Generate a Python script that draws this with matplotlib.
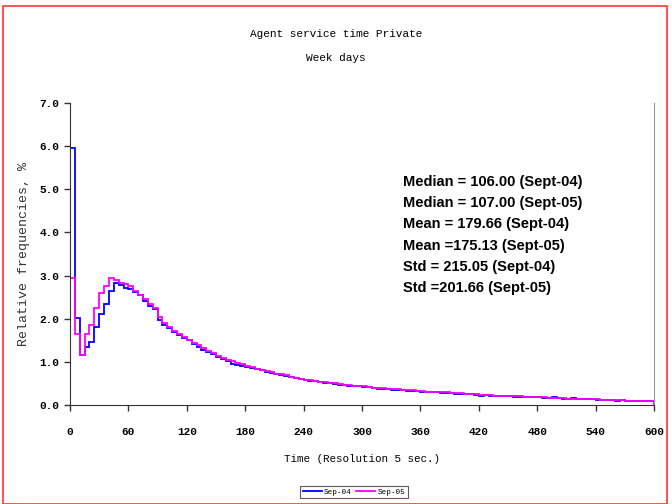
import numpy as np
import matplotlib
matplotlib.use("Agg")
import matplotlib.pyplot as plt
from matplotlib.patches import Rectangle

# relative frequencies (%) per 5-second bin, 0..600 s
bin_width = 5
sep04 = [
    5.95, 2.02, 1.15, 1.35, 1.45, 1.80, 2.12, 2.35, 2.65, 2.82,
    2.78, 2.72, 2.68, 2.62, 2.55, 2.42, 2.30, 2.22, 1.98, 1.85,
    1.78, 1.70, 1.62, 1.55, 1.50, 1.42, 1.35, 1.28, 1.22, 1.18,
    1.12, 1.06, 1.02, 0.96, 0.93, 0.91, 0.89, 0.86, 0.83, 0.80,
    0.77, 0.75, 0.72, 0.69, 0.67, 0.64, 0.62, 0.60, 0.58, 0.56,
    0.55, 0.53, 0.51, 0.50, 0.49, 0.47, 0.46, 0.45, 0.44, 0.43,
    0.42, 0.41, 0.39, 0.38, 0.38, 0.37, 0.35, 0.35, 0.34, 0.33,
    0.33, 0.32, 0.31, 0.30, 0.30, 0.29, 0.28, 0.28, 0.27, 0.26,
    0.26, 0.25, 0.25, 0.24, 0.22, 0.23, 0.22, 0.20, 0.21, 0.21,
    0.20, 0.19, 0.19, 0.19, 0.18, 0.18, 0.18, 0.17, 0.17, 0.18,
    0.16, 0.15, 0.15, 0.17, 0.14, 0.14, 0.13, 0.14, 0.12, 0.12,
    0.12, 0.11, 0.10, 0.11, 0.10, 0.09, 0.10, 0.09, 0.09, 0.09,
]
sep05 = [
    2.95, 1.65, 1.15, 1.65, 1.85, 2.25, 2.60, 2.75, 2.95, 2.90,
    2.83, 2.80, 2.75, 2.65, 2.55, 2.45, 2.35, 2.25, 2.05, 1.90,
    1.80, 1.72, 1.64, 1.57, 1.50, 1.44, 1.38, 1.31, 1.25, 1.20,
    1.14, 1.09, 1.05, 1.02, 0.98, 0.94, 0.90, 0.87, 0.84, 0.81,
    0.78, 0.76, 0.73, 0.71, 0.69, 0.66, 0.63, 0.61, 0.59, 0.57,
    0.56, 0.54, 0.53, 0.51, 0.50, 0.48, 0.47, 0.46, 0.45, 0.44,
    0.43, 0.41, 0.40, 0.40, 0.39, 0.37, 0.37, 0.36, 0.35, 0.34,
    0.34, 0.33, 0.32, 0.31, 0.31, 0.30, 0.29, 0.29, 0.28, 0.27,
    0.27, 0.26, 0.26, 0.25, 0.24, 0.24, 0.23, 0.22, 0.22, 0.21,
    0.21, 0.20, 0.20, 0.19, 0.19, 0.18, 0.18, 0.18, 0.17, 0.17,
    0.16, 0.16, 0.15, 0.15, 0.15, 0.14, 0.14, 0.13, 0.13, 0.12,
    0.12, 0.12, 0.11, 0.11, 0.10, 0.10, 0.10, 0.10, 0.09, 0.09,
]
x_ticks = list(range(0, 601, 60))
y_ticks = [0, 1, 2, 3, 4, 5, 6, 7]
stats = [
    "Median = 106.00 (Sept-04)",
    "Median = 107.00 (Sept-05)",
    "Mean = 179.66 (Sept-04)",
    "Mean =175.13 (Sept-05)",
    "Std = 215.05 (Sept-04)",
    "Std =201.66 (Sept-05)",
]

mono = "Liberation Mono"
edges = np.arange(len(sep04) + 1) * bin_width

fig = plt.figure(figsize=(6.72, 5.04), dpi=100)
ax = fig.add_axes([70 / 672, 1 - 405 / 504, 584 / 672, 302 / 504])

ax.stairs(sep04, edges, color="#0000ff", linewidth=1.3, label="Sep-04")
ax.stairs(sep05, edges, color="#ff00ff", linewidth=1.3, label="Sep-05")

ax.set_xlim(0, 600)
ax.set_ylim(0, 7)
ax.set_xticks(x_ticks)
ax.set_yticks(y_ticks)
ax.set_yticklabels([f"{v:.1f}" for v in y_ticks])
ax.tick_params(direction="out", length=4, width=1, colors="#333333",
               labelsize=8, labelcolor="black")
for lab in ax.get_xticklabels() + ax.get_yticklabels():
    lab.set_fontfamily(mono)
    lab.set_fontweight("bold")
ax.spines["top"].set_visible(False)
for s in ["left", "bottom"]:
    ax.spines[s].set_color("#333333")
ax.spines["right"].set_color("#999999")
ax.spines["right"].set_linewidth(0.8)
ax.tick_params(axis="x", pad=12)

ax.set_xlabel("Time (Resolution 5 sec.)", fontfamily=mono, fontsize=7.8, labelpad=12)
ax.set_ylabel("Relative frequencies, %", fontfamily=mono, fontsize=9.5, labelpad=7,
              color="#333333")

fig.text(0.5, 1 - 34 / 504, "Agent service time Private", ha="center", va="center",
         fontfamily=mono, fontsize=8)
fig.text(0.5, 1 - 58 / 504, "Week days", ha="center", va="center",
         fontfamily=mono, fontsize=8)

for i, line in enumerate(stats):
    fig.text(403 / 672, 1 - (182 + i * 21.2) / 504, line, ha="left", va="center",
             fontfamily="Liberation Sans", fontweight="bold", fontsize=10.5)

leg = fig.legend(loc="center", bbox_to_anchor=(354 / 672, 1 - 492 / 504), ncol=2,
                 prop={"family": mono, "size": 5.5}, frameon=True, fancybox=False,
                 handlelength=2.5, handletextpad=0.3, columnspacing=0.6,
                 borderpad=0.3, edgecolor="#333333")
leg.get_frame().set_linewidth(0.8)

fig.patches.append(Rectangle((3 / 672, 0), 664 / 672, 1 - 6 / 504,
                             transform=fig.transFigure, fill=False,
                             edgecolor="#ff3333", linewidth=1.2))

fig.savefig("out.png", dpi=100)
